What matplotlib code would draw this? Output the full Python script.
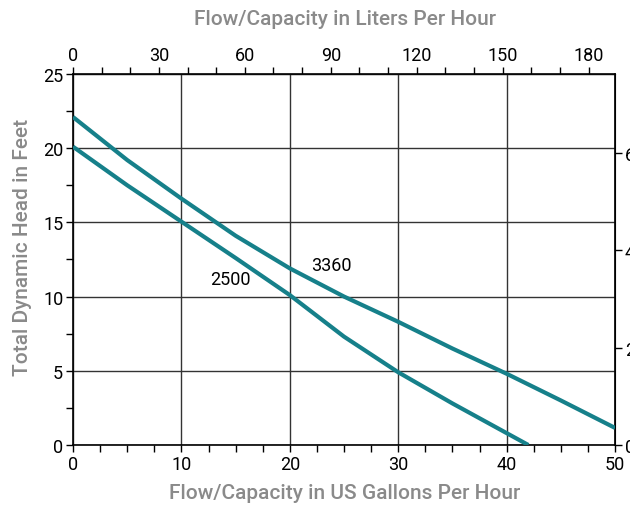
import numpy as np
from matplotlib import pyplot as plt
from matplotlib.ticker import MultipleLocator

# pump curves, flow in US gallons per hour vs head in feet
flow_2500 = [0, 5, 10, 15, 20, 25, 30, 35, 40, 42]
head_2500 = [20.1, 17.5, 15.05, 12.6, 10.1, 7.3, 4.9, 2.8, 0.8, 0]

flow_3360 = [0, 5, 10, 15, 20, 25, 30, 35, 40, 45, 50]
head_3360 = [22.1, 19.2, 16.6, 14.1, 11.9, 10.0, 8.3, 6.5, 4.8, 3.0, 1.15]

curve_labels = ['2500', '3360']
label_pos = [(14.5, 11.2), (23.8, 12.1)]

teal = '#16808a'
grey = '#8a8a8a'
plt.rcParams['font.family'] = ['Roboto', 'DejaVu Sans']

fig = plt.figure(figsize=(6.3, 5.1), dpi=100)
ax = fig.add_axes([0.1159, 0.1255, 0.8604, 0.7275])

ax.plot(flow_2500, head_2500, color=teal, lw=3.0, solid_capstyle='butt', zorder=3)
ax.plot(flow_3360, head_3360, color=teal, lw=3.0, solid_capstyle='butt', zorder=3)
for txt, (x, y) in zip(curve_labels, label_pos):
    ax.text(x, y, txt, fontsize=13, ha='center', va='center', color='black')

ax.set_xlim(0, 50)
ax.set_ylim(0, 25)
ax.xaxis.set_major_locator(MultipleLocator(10))
ax.xaxis.set_minor_locator(MultipleLocator(2.5))
ax.yaxis.set_major_locator(MultipleLocator(5))
ax.yaxis.set_minor_locator(MultipleLocator(2.5))
ax.grid(True, which='major', color='#333333', lw=1.0)
ax.tick_params(which='both', direction='out', length=5, width=1, labelsize=13, pad=2)

for s in ax.spines.values():
    s.set_linewidth(1.2)

# litres per hour across the top
gph_to_lph = 3.78541
top = ax.secondary_xaxis('top', functions=(lambda g: g * gph_to_lph, lambda l: l / gph_to_lph))
top.xaxis.set_major_locator(MultipleLocator(30))
top.xaxis.set_minor_locator(MultipleLocator(10))
top.tick_params(which='both', direction='out', length=5, width=1, labelsize=13, pad=2)

# metres on the right
ft_to_m = 0.3048
right = ax.secondary_yaxis('right', functions=(lambda f: f * ft_to_m, lambda m: m / ft_to_m))
right.yaxis.set_major_locator(MultipleLocator(2))
right.yaxis.set_minor_locator(MultipleLocator(100))
right.tick_params(which='both', direction='out', length=5, width=1, labelsize=13, pad=2)

fig.text(0.547, 0.962, 'Flow/Capacity in Liters Per Hour', ha='center', va='center',
         fontsize=15, color=grey, fontweight='medium')
fig.text(0.547, 0.033, 'Flow/Capacity in US Gallons Per Hour', ha='center', va='center',
         fontsize=15, color=grey, fontweight='medium')
fig.text(0.035, 0.515, 'Total Dynamic Head in Feet', ha='center', va='center',
         rotation=90, fontsize=15, color=grey, fontweight='medium')

plt.savefig('out.png', dpi=100)
